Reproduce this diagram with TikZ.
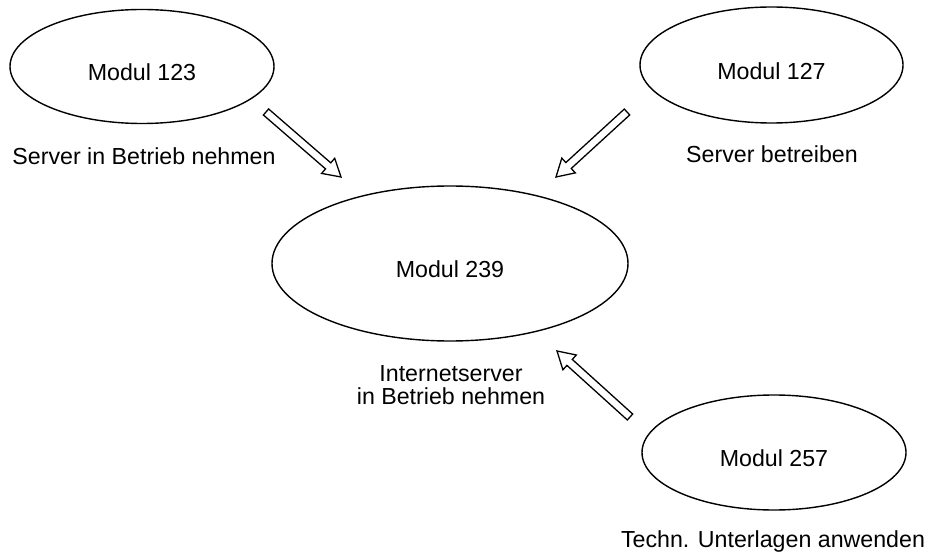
\documentclass[tikz,border=0pt]{standalone}
\usepackage{fontspec}
\setmainfont{Liberation Sans}
\usetikzlibrary{shapes.geometric,calc}
\newcommand{\hollowarrow}[2]{%
  \coordinate (hb) at ($(#2)!17pt!(#1)$);
  \draw[arrowline] ($(#1)!4pt!90:(#2)$) -- ($(hb)!4pt!-90:(#1)$) -- ($(hb)!10pt!-90:(#1)$)
    -- (#2) -- ($(hb)!10pt!90:(#1)$) -- ($(hb)!4pt!90:(#1)$) -- ($(#1)!4pt!-90:(#2)$) -- cycle;}
\begin{document}
\begin{tikzpicture}[x=1pt,y=-1pt,
  modul/.style={draw, ellipse, line width=1.4pt, inner sep=0pt,
    font=\fontsize{23.2}{24}\selectfont, text height=28.6pt, text depth=0pt},
  lbl/.style={font=\fontsize{23.2}{24}\selectfont, anchor=base, inner sep=0pt},
  arrowline/.style={draw, line width=1.3pt, line join=miter}]
\useasboundingbox (0,0) rectangle (929,553);

\node[modul, minimum width=264pt, minimum height=114pt] (e123) at (142,66.5) {Modul 123};
\node[modul, minimum width=263pt, minimum height=116pt] (e127) at (771.5,65) {Modul 127};
\node[modul, minimum width=356pt, minimum height=155pt] (e239) at (450,263.5) {Modul 239};
\node[modul, minimum width=264pt, minimum height=115pt] (e257) at (774,452.5) {Modul 257};

\node[lbl] (l123) at (144,165) {Server in Betrieb nehmen};
\node[lbl] (l127) at (772,163) {Server betreiben};
\node[lbl] (l239a) at (451,381) {Internetserver};
\node[lbl] (l239b) at (451,404) {in Betrieb nehmen};
\node[lbl] (l257) at (773,547) {Techn. Unterlagen anwenden};

\coordinate (a1t) at (266,112);
\coordinate (a1h) at (341,177);
\coordinate (a2t) at (627,112);
\coordinate (a2h) at (556,177);
\coordinate (a3t) at (630,417);
\coordinate (a3h) at (557,351);

\hollowarrow{a1t}{a1h}
\hollowarrow{a2t}{a2h}
\hollowarrow{a3t}{a3h}
\end{tikzpicture}
\end{document}
